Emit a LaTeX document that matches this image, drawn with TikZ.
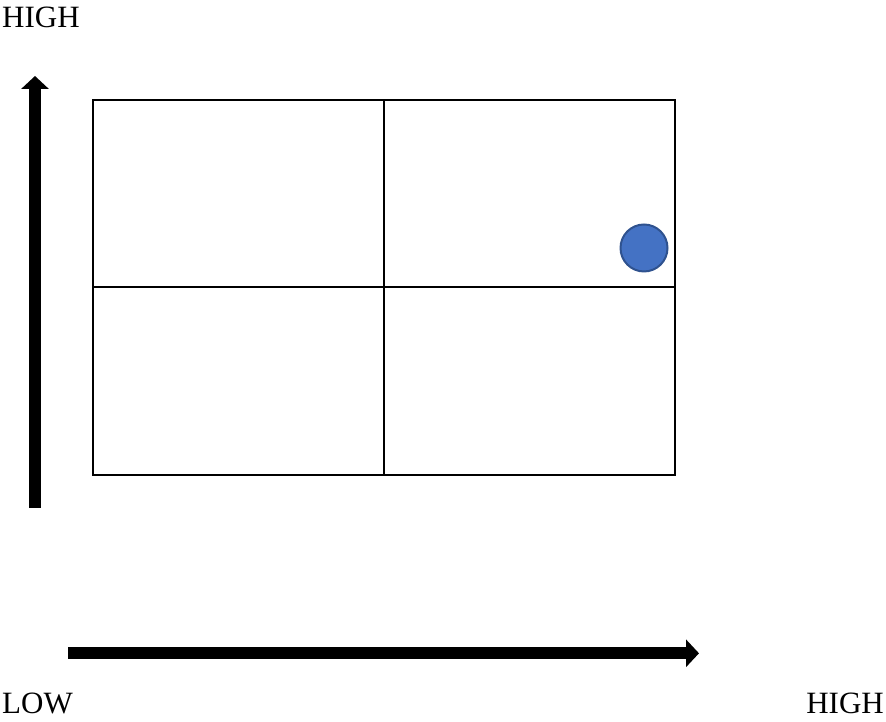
\documentclass[tikz,border=0pt]{standalone}
\usepackage{fontspec}
\setmainfont{Liberation Serif}
\usepackage{xcolor}
\definecolor{dotBlue}{RGB}{68, 114, 196}
\definecolor{dotEdge}{RGB}{47, 82, 143}
\usetikzlibrary{arrows.meta, positioning}
\tikzset{
    cell/.style={draw=black, line width=2pt, minimum width=291pt, minimum height=187.5pt, inner sep=0pt, outer sep=0pt},
    axisLine/.style={line width=12.4pt, draw=black, -{Triangle[width=27pt, length=13pt]}},
    axisLabel/.style={inner sep=0pt, font=\fontsize{31}{36}\selectfont},
    marker/.style={circle, fill=dotBlue, draw=dotEdge, line width=2pt, minimum size=47pt, inner sep=0pt}
}

\begin{document}
\begin{tikzpicture}[x=1pt, y=1pt]
    \useasboundingbox (0,0) rectangle (886,722);

    % --- LABELS ---
    \node[axisLabel, anchor=base west] (highTop) at (2,694) {HIGH};
    \node[axisLabel, anchor=base west] (lowLabel) at (2,8) {LOW};
    \node[axisLabel, anchor=base east] (highRight) at (884,8) {HIGH};

    % --- GRID ---
    \node[cell] (cellTL) at (238.5,528.25) {};
    \node[cell, right=0pt of cellTL] (cellTR) {};
    \node[cell, below=0pt of cellTL] (cellBL) {};
    \node[cell, right=0pt of cellBL] (cellBR) {};

    % Marker dot
    \node[marker] (dot) at (644,474) {};

    % --- AXES ---
    \coordinate (yStart) at (35,214);
    \coordinate (yEnd) at (35,646);
    \coordinate (xStart) at (68,68.7);
    \coordinate (xEnd) at (699,68.7);
    \draw[axisLine] (yStart) -- (yEnd);
    \draw[axisLine] (xStart) -- (xEnd);
\end{tikzpicture}
\end{document}
